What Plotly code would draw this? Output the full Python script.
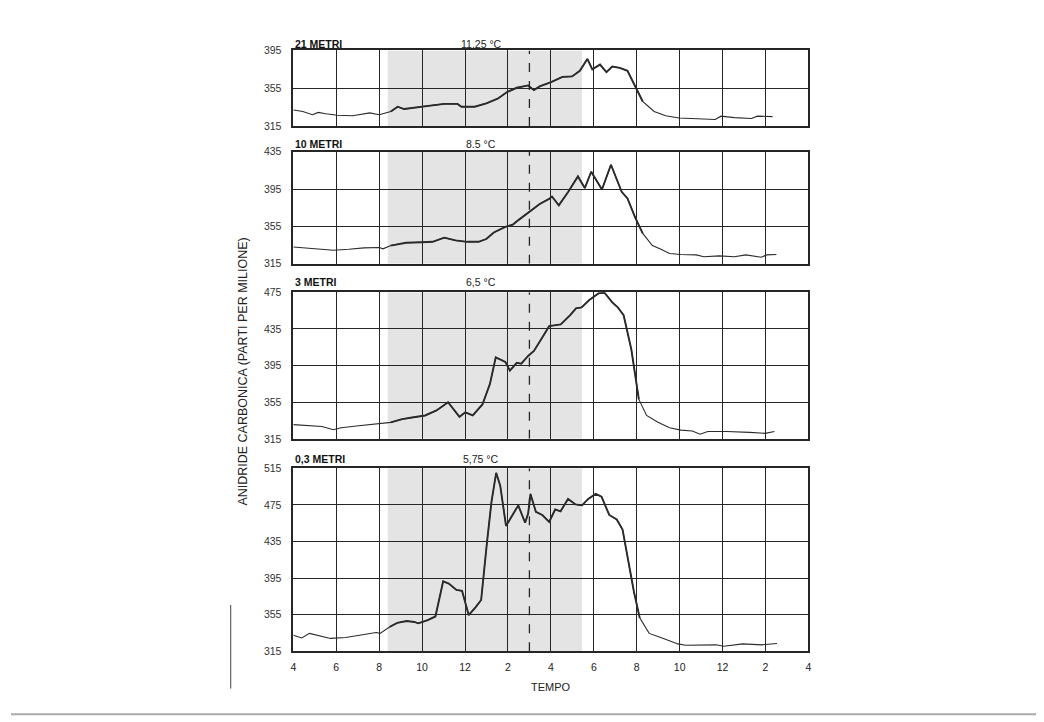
import numpy as np
import plotly.graph_objects as go

# ---------------- data ----------------
TICK_HOURS = [0, 2, 4, 6, 8, 10, 12, 14, 16, 18, 20, 22, 24]
TICK_LABELS = ["4", "6", "8", "10", "12", "2", "4", "6", "8", "10", "12", "2", "4"]

PANEL_TITLES = ["21 METRI", "10 METRI", "3 METRI", "0,3 METRI"]
PANEL_TEMPS = ["11,25 °C", "8.5 °C", "6,5 °C", "5,75 °C"]
PANEL_RANGES = [(315, 395), (315, 435), (315, 475), (315, 515)]

h21 = [0.00, 0.44, 0.89, 1.16, 1.51, 2.05, 2.76, 3.29, 3.56, 4.00, 4.54, 4.86, 5.16, 5.96, 6.67, 7.03,
       7.65, 7.83, 8.45, 8.99, 9.52, 9.96, 10.41, 10.94, 11.21, 11.48, 12.01, 12.54, 12.99, 13.35, 13.70,
       13.93, 14.29, 14.59, 14.86, 15.21, 15.57, 15.93, 16.28, 16.81, 17.35, 17.97, 18.77, 19.66, 19.93,
       20.55, 21.35, 21.62, 22.33]
v21 = [332, 330.5, 327, 329.5, 328, 326.5, 326, 328, 329, 327, 330.5, 335.5, 333, 335.5, 337.5, 338.5,
       338.5, 335.5, 335.5, 339, 344, 351, 355.5, 358, 353, 357, 361.5, 367, 367.5, 373.5, 386,
       375, 380, 372, 378, 376.5, 373.5, 356.5, 341, 330.5, 326, 323.5, 323, 322, 325.5,
       324, 323, 325.5, 325]

h10 = [0.00, 0.62, 1.16, 1.87, 2.58, 3.29, 4.00, 4.18, 4.54, 5.25, 5.96, 6.49, 7.03, 7.56, 8.10, 8.63,
       8.99, 9.34, 9.88, 10.23, 10.50, 10.77, 11.03, 11.48, 11.92, 12.05, 12.37, 12.81, 13.26, 13.58,
       13.88, 14.38, 14.80, 15.30, 15.57, 15.93, 16.28, 16.73, 17.08, 17.53, 18.06, 18.77, 19.13, 19.84,
       20.55, 21.09, 21.80, 22.06, 22.51]
v10 = [333, 332, 331, 329.5, 330.5, 332, 332.5, 331, 334.5, 337.5, 338, 338.5, 343, 340, 338.5, 338.5,
       341.5, 348.5, 354.5, 357, 362, 366.5, 371.5, 379, 384.5, 387, 377.5, 392, 408.5, 396,
       413.5, 394.5, 421, 392, 385, 364.5, 347.5, 334.5, 331, 326, 325, 324.5, 322.5, 323.5,
       322.5, 324.5, 322, 324.5, 325]

h3 = [0.00, 0.80, 1.33, 1.87, 2.22, 2.94, 3.65, 4.18, 4.54, 5.07, 5.60, 6.14, 6.67, 7.21, 7.74, 8.01,
      8.36, 8.81, 9.16, 9.43, 9.88, 10.09, 10.41, 10.62, 10.94, 11.21, 11.57, 11.92, 12.46, 12.90, 13.17,
      13.43, 13.79, 14.23, 14.50, 14.86, 15.12, 15.39, 15.75, 16.10, 16.46, 16.99, 17.53, 18.06, 18.59,
      18.95, 19.31, 20.20, 21.26, 21.98, 22.42]
v3 = [330.5, 329.5, 328.5, 325, 327, 329, 331, 332, 333, 336.5, 338.5, 340.5, 346, 355, 339, 344,
      340.5, 352.5, 375, 404, 399, 389.5, 398, 397, 405.5, 411, 424.5, 438, 440, 450, 457.5,
      458.5, 466.5, 474, 474.5, 464, 458.5, 450, 412.5, 358, 340.5, 333, 327, 324.5, 323.5,
      320, 323, 323, 322, 321, 323]

h03 = [0.00, 0.39, 0.75, 1.19, 1.73, 2.44, 3.33, 3.86, 4.04, 4.48, 4.84, 5.28, 5.64, 5.82, 6.26, 6.62,
       6.98, 7.24, 7.60, 7.86, 8.17, 8.49, 8.75, 9.02, 9.23, 9.45, 9.64, 9.91, 10.23, 10.48, 10.80,
       10.94, 11.05, 11.30, 11.60, 11.92, 12.20, 12.45, 12.80, 13.15, 13.45, 13.74, 14.09, 14.36, 14.72,
       15.07, 15.34, 15.60, 15.87, 16.14, 16.58, 17.12, 17.47, 17.92, 18.27, 18.99, 19.70, 20.05, 20.94,
       21.83, 22.54]
v03 = [332.5, 329.5, 334.5, 332, 329, 330, 333.5, 335.5, 334.5, 341.5, 346, 348, 347, 345.5, 349, 353,
       391.5, 389, 382, 381, 354.5, 363, 371, 433.5, 478, 510, 496, 452, 465.5, 474.5, 455.5,
       465.5, 487, 467.5, 464, 456.5, 470, 468, 481.5, 475.5, 474.5, 481.5, 487, 484, 464,
       459, 448, 415.5, 380, 351.5, 334.5, 330, 327, 323, 321.5, 322, 322, 320.5, 323,
       322, 323.5]

SERIES = [(h21, v21), (h10, v10), (h3, v3), (h03, v03)]

DAY_START, DAY_END = 4.4, 13.45   # shaded period (hours from 4 o'clock)
DASH_HOUR = 11                    # dashed line (3 o'clock)

# ---------------- layout geometry (page pixels) ----------------
W, H = 1044, 722
OFF = 8            # the page body margin shifts the figure by 8 px
X_LEFT, X_RIGHT = 292, 810
PANEL_PX = [(45, 122), (148, 262), (291, 440), (470, 656)]
TITLE_Y = [39, 140, 281, 461]

def px_x(x):
    return (x - OFF) / W

def px_y(y):
    return 1 - (y - OFF) / H

fig = go.Figure()
line_col = "#2b2b2b"
grid_col = "#262626"
font_fam = "Liberation Sans, Arial, sans-serif"

for i, (hs, vs) in enumerate(SERIES):
    n = i + 1
    xa = "x" if n == 1 else f"x{n}"
    ya = "y" if n == 1 else f"y{n}"
    hs_a = np.array(hs)
    vs_a = np.array(vs)
    fig.add_trace(go.Scatter(x=hs_a, y=vs_a, mode="lines", xaxis=xa, yaxis=ya,
                             line=dict(color=line_col, width=1.1), showlegend=False, hoverinfo="skip"))
    mask = (hs_a >= DAY_START) & (hs_a <= 16.3)
    fig.add_trace(go.Scatter(x=hs_a[mask], y=vs_a[mask], mode="lines", xaxis=xa, yaxis=ya,
                             line=dict(color=line_col, width=1.9), showlegend=False, hoverinfo="skip"))

    top, bot = PANEL_PX[i]
    lo, hi = PANEL_RANGES[i]
    xkey = "xaxis" if n == 1 else f"xaxis{n}"
    ykey = "yaxis" if n == 1 else f"yaxis{n}"
    fig.update_layout(**{
        xkey: dict(domain=[px_x(X_LEFT), px_x(X_RIGHT)], range=[0, 24], anchor=ya,
                   tickvals=TICK_HOURS, ticktext=TICK_LABELS, showticklabels=(n == 4),
                   showgrid=True, gridcolor=grid_col, gridwidth=1.4, zeroline=False,
                   showline=True, mirror=True, linecolor=grid_col, linewidth=1.6,
                   ticks="", ticklabelstandoff=5,
                   tickfont=dict(size=10.5, color="#222", family=font_fam)),
        ykey: dict(domain=[px_y(bot), px_y(top)], range=[lo, hi], anchor=xa,
                   tickvals=list(range(lo, hi + 1, 40)), showgrid=True, gridcolor=grid_col,
                   gridwidth=1.4, zeroline=False, showline=True, mirror=True,
                   linecolor=grid_col, linewidth=1.6, ticks="", ticklabelstandoff=8,
                   tickfont=dict(size=10.5, color="#333", family=font_fam)),
    })
    # shaded daylight band
    fig.add_shape(type="rect", xref=xa, yref=ya, x0=DAY_START, x1=DAY_END, y0=lo, y1=hi,
                  fillcolor="#e4e4e4", line=dict(width=0), layer="below")
    # dashed vertical line
    fig.add_shape(type="line", xref=xa, yref=ya, x0=DASH_HOUR, x1=DASH_HOUR, y0=lo, y1=hi,
                  line=dict(color=grid_col, width=1.3, dash="dash"))
    # titles
    fig.add_annotation(text=f"<b>{PANEL_TITLES[i]}</b>", xref="paper", yref="paper",
                       x=px_x(X_LEFT), y=px_y(TITLE_Y[i]), xanchor="left", yanchor="middle",
                       showarrow=False, font=dict(size=10.5, color="#111", family=font_fam))
    fig.add_annotation(text=PANEL_TEMPS[i], xref="paper", yref="paper",
                       x=px_x(481), y=px_y(TITLE_Y[i]), xanchor="center", yanchor="middle",
                       showarrow=False, font=dict(size=10.5, color="#222", family=font_fam))

fig.add_annotation(text="ANIDRIDE CARBONICA (PARTI PER MILIONE)", xref="paper", yref="paper",
                   x=px_x(241), y=px_y(372), textangle=-90, showarrow=False,
                   xanchor="center", yanchor="middle",
                   font=dict(size=12.5, color="#222", family=font_fam))
fig.add_annotation(text="TEMPO", xref="paper", yref="paper", x=px_x(551), y=px_y(692),
                   showarrow=False, xanchor="center", yanchor="middle",
                   font=dict(size=11, color="#222", family=font_fam))

# scan artefact line left of the bottom panel
fig.add_shape(type="line", xref="paper", yref="paper", x0=px_x(229), x1=px_x(229),
              y0=px_y(694), y1=px_y(609), line=dict(color="#444", width=1))
# right and bottom edges of the scanned page
fig.add_shape(type="line", xref="paper", yref="paper", x0=px_x(1040), x1=px_x(1040),
              y0=px_y(720), y1=1, line=dict(color="#111", width=2))
fig.add_shape(type="line", xref="paper", yref="paper", x0=0, x1=1, y0=px_y(720), y1=px_y(720),
              line=dict(color="#aaa", width=2))

fig.update_layout(width=W, height=H, margin=dict(l=0, r=0, t=0, b=0),
                  paper_bgcolor="white", plot_bgcolor="white", showlegend=False)

fig.write_html("out.html")
